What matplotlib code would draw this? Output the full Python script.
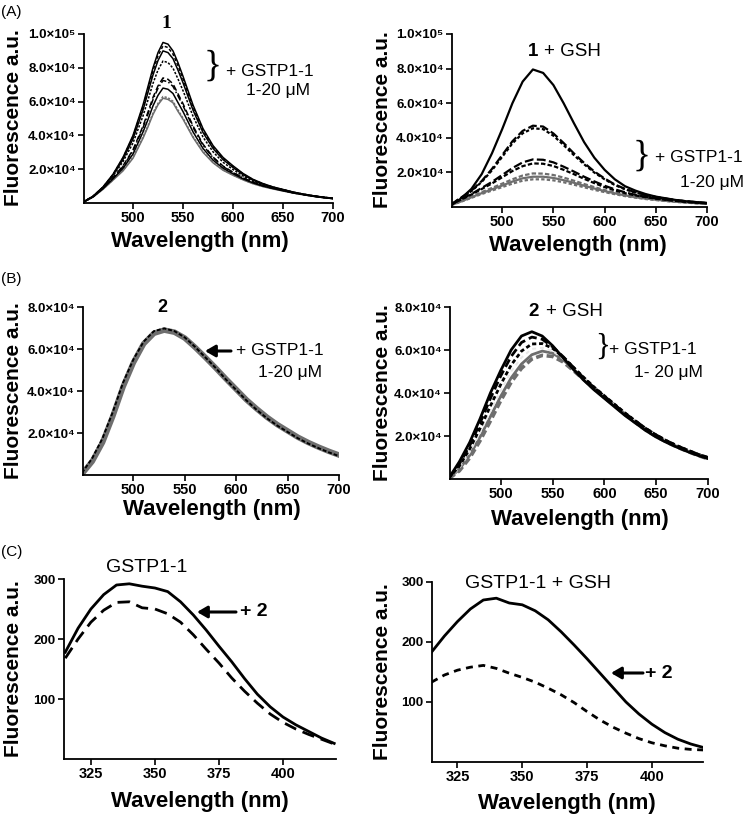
import matplotlib
matplotlib.use("Agg")
import matplotlib.pyplot as plt

plt.rcParams['font.family'] = ['Liberation Sans', 'DejaVu Sans']

# ---- data ----
wl = [450, 460, 470, 480, 490, 500, 510, 520, 530, 540, 550, 560, 570,
      580, 590, 600, 610, 620, 630, 640, 650, 660, 670, 680, 690, 700]
# finer steps around the peak for panel A (left)
wl_a = [450, 460, 470, 480, 490, 500, 510, 515, 520, 525, 530, 535, 540, 545, 550, 560, 570,
        580, 590, 600, 610, 620, 630, 640, 650, 660, 670, 680, 690, 700]

# (A) compound 1 + GSTP1-1 titration
a1 = [500, 4000, 9500, 17000, 27000, 40000, 58000, 69000, 80000, 89000, 95000, 94000, 90000, 83000, 75000, 58000, 44000, 34000, 27000, 22000, 17500, 14000, 11500, 9500, 8000, 6500, 5300, 4300, 3500, 2800]
a2 = [500, 4000, 9400, 16800, 26600, 39300, 56900, 67600, 78300, 87100, 93000, 92000, 88100, 81200, 73500, 56800, 43100, 33300, 26500, 21600, 17200, 13800, 11300, 9400, 7900, 6400, 5300, 4300, 3500, 2800]
a3 = [500, 3900, 9300, 16500, 25800, 38000, 55000, 65400, 75800, 84300, 90000, 89000, 85400, 78600, 71200, 55000, 41700, 32300, 25700, 21000, 16800, 13500, 11100, 9300, 7900, 6400, 5200, 4200, 3400, 2700]
a4 = [450, 3800, 9100, 16000, 24500, 35500, 51500, 61000, 70800, 78700, 84000, 83100, 79800, 73400, 66500, 51400, 39000, 30300, 24100, 19800, 16000, 13000, 10800, 9100, 7700, 6300, 5200, 4200, 3400, 2700]
a5 = [400, 3700, 8800, 15000, 22000, 31500, 45500, 53800, 62500, 69300, 74000, 73200, 70500, 64600, 58800, 45600, 34800, 27200, 21900, 18200, 14900, 12300, 10300, 8800, 7500, 6200, 5100, 4100, 3300, 2600]
a6 = [400, 3700, 8700, 14800, 21600, 30800, 44500, 52700, 61200, 67900, 72500, 71700, 69000, 63300, 57600, 44700, 34200, 26800, 21600, 18000, 14800, 12200, 10200, 8700, 7400, 6100, 5000, 4100, 3300, 2600]
a7 = [400, 3600, 8500, 14300, 20500, 29000, 42000, 49400, 57500, 63700, 68000, 67300, 64800, 59400, 54100, 42100, 32300, 25400, 20600, 17300, 14300, 11900, 10000, 8600, 7300, 6000, 5000, 4000, 3200, 2600]
a8 = [400, 3500, 8200, 13700, 19400, 27000, 39000, 45800, 53300, 59000, 63000, 62300, 60200, 55000, 50300, 39300, 30400, 24000, 19600, 16600, 13800, 11500, 9800, 8400, 7200, 5900, 4900, 4000, 3200, 2600]
a9 = [400, 3500, 8100, 13500, 19000, 26500, 38300, 45100, 52400, 58100, 62000, 61300, 59300, 54200, 49600, 38800, 30000, 23800, 19400, 16400, 13700, 11400, 9700, 8300, 7100, 5900, 4900, 4000, 3200, 2600]

# (A) compound 1 + GSH + GSTP1-1
r1 = [1000, 5000, 10500, 19000, 31000, 45000, 60000, 72500, 79500, 77500, 70500, 60000, 48500, 37500, 28500, 21500, 16000, 12000, 9500, 7500, 6000, 5000, 4000, 3300, 2800, 2300]
r2 = [1500, 5500, 9500, 15000, 22000, 30000, 38000, 44000, 47000, 46500, 42500, 37000, 31000, 25500, 20500, 16500, 13000, 10500, 8500, 7000, 5800, 4800, 4000, 3300, 2800, 2300]
r3 = [1500, 5300, 9200, 14500, 21200, 29000, 36800, 42600, 45500, 45000, 41200, 35800, 30000, 24700, 19900, 16000, 12700, 10200, 8300, 6900, 5700, 4700, 3900, 3200, 2700, 2200]
r4 = [1500, 4500, 7500, 11000, 14500, 18500, 22500, 25800, 27500, 27300, 25800, 23300, 20500, 17500, 14800, 12300, 10200, 8500, 7000, 5900, 5000, 4200, 3600, 3000, 2600, 2200]
r5 = [1500, 4300, 7200, 10400, 13600, 17200, 20800, 23600, 25200, 25000, 23700, 21500, 19000, 16300, 13800, 11500, 9600, 8000, 6700, 5700, 4800, 4100, 3500, 2900, 2500, 2100]
r6 = [1200, 3500, 6000, 8600, 11000, 13500, 16000, 18200, 19400, 19300, 18500, 17000, 15200, 13300, 11500, 9800, 8300, 7000, 5900, 5000, 4300, 3700, 3200, 2700, 2300, 2000]
r7 = [1100, 3300, 5600, 8000, 10200, 12400, 14700, 16600, 17500, 17500, 16800, 15500, 14000, 12300, 10700, 9200, 7900, 6700, 5700, 4900, 4200, 3600, 3100, 2600, 2200, 1900]
r8 = [1000, 3100, 5300, 7500, 9500, 11500, 13500, 15200, 16000, 16000, 15400, 14300, 12900, 11400, 9900, 8600, 7400, 6300, 5400, 4600, 4000, 3400, 2900, 2500, 2100, 1800]

# (B) compound 2 + GSTP1-1
b_black = [1000, 8000, 17500, 30000, 44000, 55000, 63500, 68500, 69800, 68500, 65500, 61000, 56000, 51000, 45500, 40500, 35500, 31000, 27000, 23500, 20500, 17500, 15000, 12800, 10800, 9000]
b_gray = [500, 6500, 15500, 28000, 42000, 53500, 62500, 67500, 69000, 68000, 65200, 60800, 56000, 51000, 45800, 40800, 35800, 31500, 27500, 24000, 21000, 18000, 15500, 13300, 11300, 9500]

# (B) compound 2 + GSH + GSTP1-1
s1 = [500, 8000, 17000, 28000, 40000, 50500, 60000, 66500, 68500, 66500, 62000, 56500, 51000, 46000, 41500, 37500, 33500, 29500, 26000, 22500, 19500, 17000, 14800, 12800, 11000, 9500]
s2 = [500, 7000, 15500, 26000, 37500, 48000, 57000, 63500, 66000, 65000, 61500, 57000, 52000, 47000, 42500, 38500, 34500, 30500, 27000, 23500, 20500, 17800, 15500, 13500, 11600, 10000]
s3 = [400, 6000, 14000, 23500, 34000, 44000, 53000, 59500, 62800, 63000, 60800, 56800, 52000, 47300, 42800, 38700, 34700, 30700, 27000, 23500, 20500, 17800, 15500, 13500, 11600, 10000]
s4 = [300, 5000, 12500, 21500, 31500, 41000, 50000, 56500, 60500, 61000, 59500, 56000, 51500, 47000, 42600, 38500, 34500, 30500, 26800, 23300, 20300, 17600, 15300, 13300, 11400, 9800]
s5 = [300, 4500, 11000, 19500, 29000, 38500, 47000, 53500, 57800, 59500, 58500, 55500, 51200, 46800, 42400, 38300, 34300, 30300, 26600, 23100, 20100, 17400, 15100, 13100, 11200, 9600]
s6 = [200, 3800, 9800, 17800, 27000, 36500, 45000, 51500, 55800, 57500, 57000, 54500, 50500, 46300, 42000, 38000, 34000, 30000, 26300, 22800, 19800, 17200, 14900, 12900, 11000, 9400]

# (C) protein (Trp) fluorescence
wl_c = [315, 320, 325, 330, 335, 340, 345, 350, 355, 360, 365, 370, 375, 380, 385, 390, 395, 400, 405, 410, 415, 420]
c_gst = [178, 218, 250, 274, 290, 292, 288, 285, 279, 262, 240, 215, 188, 162, 134, 108, 87, 70, 57, 46, 35, 26]
c_gst_2 = [168, 200, 228, 248, 261, 262, 252, 250, 242, 228, 207, 183, 160, 135, 113, 93, 75, 61, 50, 41, 33, 25]
c_gsh = [183, 210, 234, 255, 270, 273, 265, 262, 252, 237, 217, 195, 172, 148, 124, 100, 80, 63, 49, 38, 30, 24]
c_gsh_2 = [133, 145, 153, 158, 161, 156, 148, 141, 133, 123, 112, 99, 84, 70, 58, 48, 39, 32, 27, 23, 21, 20]

x_ticks = [500, 550, 600, 650, 700]
y_ticks_a = [20000, 40000, 60000, 80000, 100000]
y_labels_a = ['2.0×10⁴', '4.0×10⁴', '6.0×10⁴', '8.0×10⁴', '1.0×10⁵']
y_ticks_b = [20000, 40000, 60000, 80000]
y_labels_b = ['2.0×10⁴', '4.0×10⁴', '6.0×10⁴', '8.0×10⁴']
x_ticks_c = [325, 350, 375, 400]
y_ticks_c = [100, 200, 300]

# ---- figure ----
W, H = 750, 817
fig = plt.figure(figsize=(W / 100, H / 100), dpi=100)
GRAY = '#6e6e6e'


def fx(x):
    return x / W


def fy(y):
    return 1 - y / H


def make_ax(l, t, r, b, xlim, ylim, xt, yt, ytl):
    ax = fig.add_axes([fx(l), fy(b), (r - l) / W, (b - t) / H])
    ax.set_xlim(*xlim)
    ax.set_ylim(*ylim)
    for s in ['top', 'right']:
        ax.spines[s].set_visible(False)
    for s in ['left', 'bottom']:
        ax.spines[s].set_linewidth(1.3)
    ax.set_xticks(xt)
    ax.set_xticklabels([str(v) for v in xt], fontweight='bold', fontsize=10.5)
    ax.set_yticks(yt)
    ax.set_yticklabels(ytl, fontweight='bold', fontsize=9.5)
    ax.tick_params(direction='out', length=4, width=1.2, pad=2)
    return ax


def xlabel(x, y):
    fig.text(fx(x), fy(y), 'Wavelength (nm)', fontsize=16, fontweight='bold',
             ha='center', va='center')


def ylabel(x, y):
    fig.text(fx(x), fy(y), 'Fluorescence a.u.', fontsize=15, fontweight='bold',
             ha='center', va='center', rotation=90)


def arrow(x0, x1, y):
    fig.add_artist(matplotlib.patches.FancyArrowPatch(
        (fx(x0), fy(y)), (fx(x1), fy(y)), transform=fig.transFigure,
        arrowstyle='-|>,head_length=6,head_width=3.5', lw=2.2, color='k',
        shrinkA=0, shrinkB=0))


def brace(x, y, size):
    fig.text(fx(x), fy(y), '}', fontsize=size, family='Liberation Serif',
             ha='center', va='center')


def txt(x, y, s, size=12.5, **kw):
    fig.text(fx(x), fy(y), s, fontsize=size, va='center', **kw)


# (A) left
ax = make_ax(84, 34, 333, 203, (451, 700), (0, 100000), x_ticks, y_ticks_a, y_labels_a)
lw = 1.1
ax.plot(wl_a, a9, color=GRAY, lw=lw)
ax.plot(wl_a, a8, color=GRAY, lw=lw, ls=(0, (1.5, 1)))
ax.plot(wl_a, a7, color='k', lw=lw)
ax.plot(wl_a, a6, color='k', lw=lw, ls=(0, (4, 1.5, 1, 1.5)))
ax.plot(wl_a, a5, color='k', lw=lw, ls=(0, (4, 2)))
ax.plot(wl_a, a4, color='k', lw=lw, ls=(0, (1.5, 1)))
ax.plot(wl_a, a3, color='k', lw=lw)
ax.plot(wl_a, a2, color='k', lw=lw, ls=(0, (2, 1.5)))
ax.plot(wl_a, a1, color='k', lw=lw)
ylabel(14, 118)
xlabel(200, 242)
fig.text(fx(166), fy(23), '1', fontsize=14, fontweight='bold',
         family='Liberation Serif', ha='center', va='center')
brace(213, 66, 27)
txt(226, 71, '+ GSTP1-1')
txt(278, 91, '1-20 μM', ha='center')

# (A) right
ax = make_ax(452, 34, 707, 207, (451, 700), (0, 100000), x_ticks, y_ticks_a, y_labels_a)
lw = 1.6
ax.plot(wl, r8, color=GRAY, lw=lw, ls=(0, (1.5, 1)))
ax.plot(wl, r7, color=GRAY, lw=lw)
ax.plot(wl, r6, color=GRAY, lw=lw, ls=(0, (2, 1)))
ax.plot(wl, r5, color='k', lw=lw, ls=(0, (2, 1)))
ax.plot(wl, r4, color='k', lw=lw, ls=(0, (4, 1.5)))
ax.plot(wl, r3, color='k', lw=lw, ls=(0, (1.5, 1)))
ax.plot(wl, r2, color='k', lw=lw, ls=(0, (4, 1.5)))
ax.plot(wl, r1, color='k', lw=lw)
ylabel(382, 120)
xlabel(578, 246)
txt(538, 52, '1', size=13.5, fontweight='bold', ha='right')
txt(544, 52, '+ GSH', size=13.5, ha='left')
brace(642, 156, 27)
txt(655, 158, '+ GSTP1-1')
txt(712, 182, '1-20 μM', ha='center')

# (B) left
ax = make_ax(83, 307, 339, 475, (451, 700), (0, 80000), x_ticks, y_ticks_b, y_labels_b)
ax.plot(wl, b_gray, color=GRAY, lw=4.0)
ax.plot(wl, b_black, color='k', lw=1.4, ls=(0, (2, 1)))
ylabel(14, 391)
xlabel(212, 510)
txt(162, 308, '2', size=13, fontweight='bold', ha='center')
arrow(231, 205, 351)
txt(236, 351, '+ GSTP1-1')
txt(290, 373, '1-20 μM', ha='center')

# (B) right
ax = make_ax(450, 307, 708, 479, (451, 700), (0, 80000), x_ticks, y_ticks_b, y_labels_b)
ax.plot(wl, s6, color=GRAY, lw=2.6, ls=(0, (2, 1)))
ax.plot(wl, s5, color=GRAY, lw=2.0)
ax.plot(wl, s4, color='#e8e8e8', lw=1.4, ls=(0, (2, 2)))
ax.plot(wl, s3, color='k', lw=2.0, ls=(0, (1.5, 1)))
ax.plot(wl, s2, color='k', lw=2.0, ls=(0, (3, 1.5)))
ax.plot(wl, s1, color='k', lw=2.0)
ylabel(382, 393)
xlabel(580, 519)
txt(539, 311, '2', size=13.5, fontweight='bold', ha='right')
txt(546, 311, '+ GSH', size=13.5, ha='left')
brace(603, 347, 22)
txt(609, 350, '+ GSTP1-1')
txt(668, 373, '1- 20 μM', ha='center')

# (C) left
ax = make_ax(64, 579, 336, 759, (314.5, 420.7), (0, 300), x_ticks_c, y_ticks_c,
             [str(v) for v in y_ticks_c])
ax.plot(wl_c, c_gst, color='k', lw=2.0)
ax.plot(wl_c, c_gst_2, color='k', lw=2.0, ls=(0, (4.5, 2.5)))
ylabel(14, 669)
xlabel(200, 801)
txt(147, 568, 'GSTP1-1', size=14, ha='center')
arrow(236, 197, 612)
txt(240, 612, '+ 2', size=14, fontweight='bold')

# (C) right
ax = make_ax(432, 582, 703, 762, (315.2, 419.7), (0, 300), x_ticks_c, y_ticks_c,
             [str(v) for v in y_ticks_c])
ax.plot(wl_c, c_gsh, color='k', lw=2.0)
ax.plot(wl_c, c_gsh_2, color='k', lw=2.0, ls=(0, (2.5, 2)))
ylabel(382, 672)
xlabel(567, 803)
txt(538, 583, 'GSTP1-1 + GSH', size=14, ha='center')
arrow(643, 611, 673)
txt(645, 673, '+ 2', size=14, fontweight='bold')

# panel letters
for lab, y in [('(A)', 12), ('(B)', 279), ('(C)', 552)]:
    fig.text(fx(1), fy(y), lab, fontsize=11, va='center', ha='left')

fig.savefig('out.png', dpi=100)
